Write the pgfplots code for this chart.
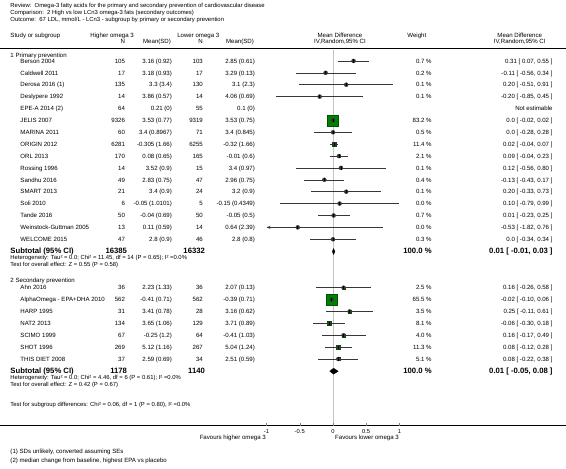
\documentclass[border=0pt]{standalone}
\usepackage{fontspec}
\setmainfont{Liberation Sans}
\usepackage{pgfplots}
\pgfplotsset{compat=1.18}
\usepackage{pgfplotstable}
\usetikzlibrary{arrows.meta}
\definecolor{sqgreen}{RGB}{0,128,0}
\definecolor{zerogray}{RGB}{195,195,195}
\definecolor{cigray}{RGB}{55,55,55}
\tikzset{
 tx/.style={inner sep=0pt, text height=4.4pt, text depth=0pt, font=\fontsize{6.1}{7}\selectfont},
 rx/.style={inner sep=0pt, text height=4.3pt, text depth=0pt, font=\fontsize{5.9}{7}\selectfont},
 hx/.style={inner sep=0pt, text height=4.2pt, text depth=0pt, font=\fontsize{5.9}{6.5}\selectfont},
 bx/.style={inner sep=0pt, text height=5.5pt, text depth=0pt, font=\fontsize{7.7}{9}\selectfont\bfseries},
}
\newcommand{\row}[8]{%
\node[tx,anchor=west] at (axis cs:20,#1) {#2};
\node[tx,anchor=east] at (axis cs:125,#1) {#3};
\node[tx,anchor=east] at (axis cs:172,#1) {#4};
\node[tx,anchor=east] at (axis cs:203,#1) {#5};
\node[tx,anchor=east] at (axis cs:255,#1) {#6};
\node[tx,anchor=east] at (axis cs:432,#1) {#7};
\node[tx,anchor=east] at (axis cs:553,#1) {#8};}

% y = row position (px from top), md, lo, hi = mean difference and 95% CI, w = weight (%)
\pgfplotstableread{
y md lo hi w
61.0 0.31 0.07 0.55 0.7
72.9 -0.11 -0.56 0.34 0.2
84.8 0.20 -0.51 0.91 0.1
96.7 -0.20 -0.85 0.45 0.1
120.5 0.00 -0.02 0.02 83.2
132.4 0.00 -0.28 0.28 0.5
144.3 0.02 -0.04 0.07 11.4
156.2 0.09 -0.04 0.23 2.1
168.1 0.12 -0.56 0.80 0.1
180.0 -0.13 -0.43 0.17 0.4
191.9 0.20 -0.33 0.73 0.1
203.8 0.10 -0.79 0.99 0.0
215.7 0.01 -0.23 0.25 0.7
227.6 -0.53 -1.82 0.76 0.0
239.5 0.00 -0.34 0.34 0.3
}\primary
\pgfplotstableread{
y md lo hi w
288.0 0.16 -0.26 0.58 2.5
299.9 -0.02 -0.10 0.06 65.5
311.8 0.25 -0.11 0.61 3.5
323.7 -0.06 -0.30 0.18 8.1
335.6 0.16 -0.17 0.49 4.0
347.5 0.08 -0.12 0.28 11.3
359.4 0.08 -0.22 0.38 5.1
}\secondary

\begin{document}
\begin{tikzpicture}
% ---------- text layer (pixel coordinates) ----------
\begin{axis}[at={(0,0)}, anchor=south west, width=566pt, height=469pt, scale only axis,
  xmin=0, xmax=566, ymin=0, ymax=469, y dir=reverse, hide axis, clip=false]
\path (rel axis cs:0,0) rectangle (rel axis cs:1,1);
\node[rx,anchor=west] at (axis cs:10,5) {Review:\ \ Omega-3 fatty acids for the primary and secondary prevention of cardiovascular disease};
\node[rx,anchor=west] at (axis cs:10,12) {Comparison:\ \ 2 High vs low LCn3 omega-3 fats (secondary outcomes)};
\node[rx,anchor=west] at (axis cs:10,19) {Outcome:\ \ 67 LDL, mmol/L - LCn3 - subgroup by primary or secondary prevention};
% column headers
\node[tx,anchor=west] at (axis cs:10,35) {Study or subgroup};
\node[tx,anchor=west] at (axis cs:90,35) {Higher omega 3};
\node[tx,anchor=east] at (axis cs:125,41) {N};
\node[tx,anchor=east] at (axis cs:171,41) {Mean(SD)};
\node[tx,anchor=west] at (axis cs:177,35) {Lower omega 3};
\node[tx,anchor=east] at (axis cs:203,41) {N};
\node[tx,anchor=east] at (axis cs:254,41) {Mean(SD)};
\node[tx] at (axis cs:340,35) {Mean Difference};
\node[tx] at (axis cs:340,41) {IV,Random,95\% CI};
\node[tx] at (axis cs:417,35) {Weight};
\node[tx] at (axis cs:520,35) {Mean Difference};
\node[tx] at (axis cs:520,41) {IV,Random,95\% CI};
\draw[black, line width=0.6pt] (axis cs:0,48) -- (axis cs:566,48);
% subgroup 1
\node[tx,anchor=west] at (axis cs:10,55) {1 Primary prevention};
\row{61.0}{Berson 2004}{105}{3.16 (0.92)}{103}{2.85 (0.61)}{0.7 \%}{0.31 [ 0.07, 0.55 ]}
\row{72.9}{Caldwell 2011}{17}{3.18 (0.93)}{17}{3.29 (0.13)}{0.2 \%}{-0.11 [ -0.56, 0.34 ]}
\row{84.8}{Derosa 2016 (1)}{135}{3.3 (3.4)}{130}{3.1 (2.3)}{0.1 \%}{0.20 [ -0.51, 0.91 ]}
\row{96.7}{Deslypere 1992}{14}{3.86 (0.57)}{14}{4.06 (0.69)}{0.1 \%}{-0.20 [ -0.85, 0.45 ]}
\row{108.6}{EPE-A 2014 (2)}{64}{0.21 (0)}{55}{0.1 (0)}{}{Not estimable}
\row{120.5}{JELIS 2007}{9326}{3.53 (0.77)}{9319}{3.53 (0.75)}{83.2 \%}{0.0 [ -0.02, 0.02 ]}
\row{132.4}{MARINA 2011}{60}{3.4 (0.8967)}{71}{3.4 (0.845)}{0.5 \%}{0.0 [ -0.28, 0.28 ]}
\row{144.3}{ORIGIN 2012}{6281}{-0.305 (1.66)}{6255}{-0.32 (1.66)}{11.4 \%}{0.02 [ -0.04, 0.07 ]}
\row{156.2}{ORL 2013}{170}{0.08 (0.65)}{165}{-0.01 (0.6)}{2.1 \%}{0.09 [ -0.04, 0.23 ]}
\row{168.1}{Rossing 1996}{14}{3.52 (0.9)}{15}{3.4 (0.97)}{0.1 \%}{0.12 [ -0.56, 0.80 ]}
\row{180.0}{Sandhu 2016}{49}{2.83 (0.75)}{47}{2.96 (0.75)}{0.4 \%}{-0.13 [ -0.43, 0.17 ]}
\row{191.9}{SMART 2013}{21}{3.4 (0.9)}{24}{3.2 (0.9)}{0.1 \%}{0.20 [ -0.33, 0.73 ]}
\row{203.8}{Soli 2010}{6}{-0.05 (1.0101)}{5}{-0.15 (0.4349)}{0.0 \%}{0.10 [ -0.79, 0.99 ]}
\row{215.7}{Tande 2016}{50}{-0.04 (0.69)}{50}{-0.05 (0.5)}{0.7 \%}{0.01 [ -0.23, 0.25 ]}
\row{227.6}{Weinstock-Guttman 2005}{13}{0.11 (0.59)}{14}{0.64 (2.39)}{0.0 \%}{-0.53 [ -1.82, 0.76 ]}
\row{239.5}{WELCOME 2015}{47}{2.8 (0.9)}{46}{2.8 (0.8)}{0.3 \%}{0.0 [ -0.34, 0.34 ]}
\node[bx,anchor=west] at (axis cs:10,251.4) {Subtotal (95\% CI)};
\node[bx,anchor=east] at (axis cs:127,251.4) {16385};
\node[bx,anchor=east] at (axis cs:205,251.4) {16332};
\node[bx,anchor=east] at (axis cs:432,251.4) {100.0 \%};
\node[bx,anchor=east] at (axis cs:553,251.4) {0.01 [ -0.01, 0.03 ]};
\node[hx,anchor=west] at (axis cs:10,258) {Heterogeneity: Tau² = 0.0; Chi² = 11.45, df = 14 (P = 0.65); I² =0.0\%};
\node[hx,anchor=west] at (axis cs:10,264.5) {Test for overall effect: Z = 0.55 (P = 0.58)};
% subgroup 2
\node[tx,anchor=west] at (axis cs:10,281) {2 Secondary prevention};
\row{288.0}{Ahn 2016}{36}{2.23 (1.33)}{36}{2.07 (0.13)}{2.5 \%}{0.16 [ -0.26, 0.58 ]}
\row{299.9}{AlphaOmega - EPA+DHA 2010}{562}{-0.41 (0.71)}{562}{-0.39 (0.71)}{65.5 \%}{-0.02 [ -0.10, 0.06 ]}
\row{311.8}{HARP 1995}{31}{3.41 (0.78)}{28}{3.16 (0.62)}{3.5 \%}{0.25 [ -0.11, 0.61 ]}
\row{323.7}{NAT2 2013}{134}{3.65 (1.06)}{129}{3.71 (0.89)}{8.1 \%}{-0.06 [ -0.30, 0.18 ]}
\row{335.6}{SCIMO 1999}{67}{-0.25 (1.2)}{64}{-0.41 (1.03)}{4.0 \%}{0.16 [ -0.17, 0.49 ]}
\row{347.5}{SHOT 1996}{269}{5.12 (1.16)}{267}{5.04 (1.24)}{11.3 \%}{0.08 [ -0.12, 0.28 ]}
\row{359.4}{THIS DIET 2008}{37}{2.59 (0.69)}{34}{2.51 (0.59)}{5.1 \%}{0.08 [ -0.22, 0.38 ]}
\node[bx,anchor=west] at (axis cs:10,371.3) {Subtotal (95\% CI)};
\node[bx,anchor=east] at (axis cs:127,371.3) {1178};
\node[bx,anchor=east] at (axis cs:205,371.3) {1140};
\node[bx,anchor=east] at (axis cs:432,371.3) {100.0 \%};
\node[bx,anchor=east] at (axis cs:553,371.3) {0.01 [ -0.05, 0.08 ]};
\node[hx,anchor=west] at (axis cs:10,378) {Heterogeneity: Tau² = 0.0; Chi² = 4.46, df = 6 (P = 0.61); I² =0.0\%};
\node[hx,anchor=west] at (axis cs:10,384.5) {Test for overall effect: Z = 0.42 (P = 0.67)};
\node[hx,anchor=west] at (axis cs:10,405) {Test for subgroup differences: Chi² = 0.06, df = 1 (P = 0.80), I² =0.0\%};
% axis line and footnotes
\draw[black, line width=0.6pt] (axis cs:0,426) -- (axis cs:566,426);
\node[tx,anchor=east] at (axis cs:266,438) {Favours higher omega 3};
\node[tx,anchor=west] at (axis cs:335,438) {Favours lower omega 3};
\node[tx,anchor=west] at (axis cs:10,452) {(1) SDs unlikely, converted assuming SEs};
\node[tx,anchor=west] at (axis cs:10,461) {(2) median change from baseline, highest EPA vs placebo};
\end{axis}
% ---------- forest plot layer (x in mean-difference units, 0 at px 333, 66.5 px per unit) ----------
\begin{axis}[at={(0,0)}, anchor=south west, width=566pt, height=469pt, scale only axis,
  xmin=-5.00752, xmax=3.50376, ymin=0, ymax=469, y dir=reverse, hide axis, clip=false]
\draw[zerogray, line width=0.6pt] (axis cs:0,50) -- (axis cs:0,426);
\pgfplotsinvokeforeach{-1,-0.5,0,0.5,1}{
  \draw[gray, line width=0.4pt] (axis cs:#1,426) -- (axis cs:#1,423);
  \node[inner sep=0pt, font=\fontsize{5.8}{6.5}\selectfont] at (axis cs:#1,431.5) {#1};
}
% squares (area proportional to weight)
\addplot[scatter, only marks, mark=square*,
  scatter/use mapped color={draw=sqgreen!65!black, fill=sqgreen},
  visualization depends on={0.6*sqrt(\thisrow{w}) \as \msz},
  scatter/@pre marker code/.append style={/tikz/mark size=\msz},
  mark options={line width=0.2pt}]
  table[x=md, y=y] {\primary};
\addplot[scatter, only marks, mark=square*,
  scatter/use mapped color={draw=sqgreen!65!black, fill=sqgreen},
  visualization depends on={0.68*sqrt(\thisrow{w}) \as \msz},
  scatter/@pre marker code/.append style={/tikz/mark size=\msz},
  mark options={line width=0.2pt}]
  table[x=md, y=y] {\secondary};
% confidence intervals (clipped to the -1..1 window)
\addplot[cigray, only marks, mark=none,
  error bars/.cd, x dir=both, x explicit, error mark=none,
  error bar style={draw=cigray, line width=0.55pt}]
  table[x=md, y=y, x error plus expr={min(\thisrow{hi},1)-\thisrow{md}},
        x error minus expr={\thisrow{md}-max(\thisrow{lo},-1)}] {\primary};
\addplot[cigray, only marks, mark=none,
  error bars/.cd, x dir=both, x explicit, error mark=none,
  error bar style={draw=cigray, line width=0.55pt}]
  table[x=md, y=y, x error plus expr={min(\thisrow{hi},1)-\thisrow{md}},
        x error minus expr={\thisrow{md}-max(\thisrow{lo},-1)}] {\secondary};
% arrow for CI running past -1 (Weinstock-Guttman 2005)
\addplot[cigray, line width=0.55pt, -{Stealth[length=4pt,width=3pt]}] coordinates {(-0.85,227.6) (-1,227.6)};
% point estimates
\addplot[only marks, mark=|, mark size=1.6pt, mark options={black, line width=0.5pt}] table[x=md, y=y] {\primary};
\addplot[only marks, mark=|, mark size=1.6pt, mark options={black, line width=0.5pt}] table[x=md, y=y] {\secondary};
% pooled diamonds
\addplot[fill=black, draw=black, line width=0.3pt] coordinates {(-0.01,251.8) (0.01,248.8) (0.03,251.8) (0.01,254.8) (-0.01,251.8)};
\addplot[fill=black, draw=black, line width=0.3pt] coordinates {(-0.05,371.6) (0.01,368.6) (0.08,371.6) (0.01,374.6) (-0.05,371.6)};
\end{axis}
\end{tikzpicture}
\end{document}
